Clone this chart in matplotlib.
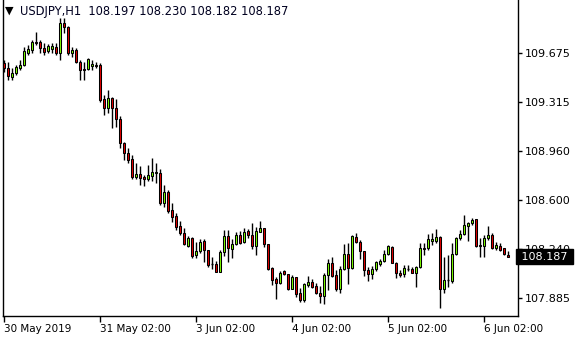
import matplotlib
matplotlib.use('Agg')
import matplotlib.pyplot as plt
from matplotlib.patches import Rectangle
from matplotlib.transforms import blended_transform_factory

# USDJPY H1 candles (oldest first)
opens = [109.602, 109.565, 109.499, 109.529, 109.565, 109.587, 109.675, 109.697, 109.755, 109.755,
         109.711, 109.689, 109.704, 109.719, 109.675, 109.894, 109.865, 109.675, 109.697, 109.609,
         109.558, 109.558, 109.580, 109.587, 109.587, 109.339, 109.273, 109.346, 109.273, 109.193,
         109.017, 108.944, 108.900, 108.769, 108.791, 108.769, 108.754, 108.776, 108.798, 108.798,
         108.579, 108.659, 108.528, 108.484, 108.411, 108.360, 108.265, 108.323, 108.199, 108.228,
         108.301, 108.236, 108.133, 108.133, 108.075, 108.221, 108.338, 108.243, 108.279, 108.345,
         108.294, 108.374, 108.345, 108.265, 108.367, 108.396, 108.279, 108.104, 108.024, 107.994,
         108.082, 108.060, 107.951, 108.038, 107.921, 107.870, 107.980, 108.002, 107.973, 107.921,
         107.899, 108.053, 108.141, 108.053, 107.951, 108.097, 108.206, 108.104, 108.331, 108.294,
         108.228, 108.089, 108.060, 108.097, 108.133, 108.155, 108.206, 108.257, 108.141, 108.068,
         108.060, 108.097, 108.097, 108.068, 108.111, 108.250, 108.250, 108.301, 108.301, 108.331,
         107.951, 108.016, 108.009, 108.206, 108.323, 108.352, 108.411, 108.433, 108.462, 108.272,
         108.265, 108.323, 108.345, 108.250, 108.265, 108.250, 108.197]
highs = [109.624, 109.609, 109.565, 109.587, 109.624, 109.719, 109.733, 109.770, 109.828, 109.770,
         109.748, 109.741, 109.748, 109.748, 109.931, 109.931, 109.872, 109.719, 109.711, 109.624,
         109.609, 109.638, 109.624, 109.609, 109.602, 109.368, 109.404, 109.353, 109.339, 109.215,
         109.025, 108.981, 108.930, 108.871, 108.849, 108.783, 108.857, 108.908, 108.871, 108.827,
         108.710, 108.674, 108.579, 108.506, 108.447, 108.396, 108.338, 108.331, 108.294, 108.316,
         108.316, 108.236, 108.184, 108.155, 108.236, 108.382, 108.382, 108.316, 108.367, 108.374,
         108.396, 108.389, 108.433, 108.404, 108.447, 108.396, 108.279, 108.111, 108.038, 108.082,
         108.089, 108.060, 108.053, 108.038, 107.958, 107.994, 108.046, 108.024, 107.994, 107.973,
         108.068, 108.170, 108.184, 108.089, 108.119, 108.279, 108.287, 108.345, 108.360, 108.309,
         108.228, 108.111, 108.119, 108.155, 108.170, 108.236, 108.272, 108.265, 108.148, 108.089,
         108.126, 108.126, 108.111, 108.119, 108.287, 108.287, 108.352, 108.360, 108.389, 108.338,
         108.184, 108.199, 108.287, 108.331, 108.382, 108.491, 108.440, 108.469, 108.462, 108.323,
         108.345, 108.411, 108.360, 108.294, 108.287, 108.250, 108.230]
lows = [109.536, 109.478, 109.478, 109.514, 109.551, 109.580, 109.660, 109.675, 109.733, 109.675,
        109.660, 109.675, 109.675, 109.660, 109.624, 109.821, 109.660, 109.646, 109.602, 109.478,
        109.478, 109.551, 109.551, 109.565, 109.317, 109.222, 109.236, 109.127, 109.134, 108.981,
        108.893, 108.871, 108.754, 108.754, 108.710, 108.703, 108.740, 108.740, 108.725, 108.564,
        108.550, 108.506, 108.440, 108.382, 108.345, 108.272, 108.257, 108.177, 108.177, 108.214,
        108.148, 108.111, 108.097, 108.075, 108.075, 108.192, 108.148, 108.177, 108.272, 108.279,
        108.287, 108.323, 108.243, 108.199, 108.367, 108.257, 108.089, 107.980, 107.878, 107.987,
        108.053, 107.943, 107.951, 107.892, 107.856, 107.856, 107.965, 107.958, 107.914, 107.848,
        107.841, 107.943, 108.038, 107.936, 107.921, 108.089, 107.987, 108.097, 108.287, 108.170,
        108.046, 108.009, 108.024, 108.082, 108.119, 108.148, 108.199, 108.141, 108.031, 108.038,
        108.038, 108.082, 108.068, 107.965, 108.104, 108.199, 108.236, 108.272, 108.287, 107.812,
        107.921, 107.965, 107.994, 108.199, 108.309, 108.345, 108.301, 108.418, 108.257, 108.184,
        108.184, 108.309, 108.243, 108.236, 108.228, 108.199, 108.182]
closes = [109.565, 109.507, 109.529, 109.572, 109.587, 109.689, 109.704, 109.755, 109.748, 109.711,
          109.682, 109.726, 109.726, 109.675, 109.894, 109.865, 109.675, 109.697, 109.609, 109.551,
          109.551, 109.631, 109.594, 109.583, 109.331, 109.273, 109.346, 109.273, 109.193, 109.017,
          108.944, 108.893, 108.769, 108.791, 108.762, 108.754, 108.783, 108.805, 108.802, 108.579,
          108.659, 108.520, 108.477, 108.404, 108.360, 108.279, 108.323, 108.192, 108.228, 108.294,
          108.236, 108.126, 108.130, 108.075, 108.221, 108.338, 108.250, 108.279, 108.345, 108.287,
          108.367, 108.345, 108.265, 108.374, 108.396, 108.279, 108.097, 108.016, 107.994, 108.068,
          108.060, 107.951, 108.038, 107.914, 107.870, 107.987, 108.002, 107.965, 107.921, 107.899,
          108.053, 108.141, 108.046, 107.951, 108.097, 108.206, 108.104, 108.338, 108.294, 108.228,
          108.089, 108.060, 108.097, 108.148, 108.155, 108.206, 108.265, 108.141, 108.068, 108.053,
          108.104, 108.093, 108.068, 108.111, 108.250, 108.246, 108.316, 108.316, 108.331, 107.951,
          108.016, 108.013, 108.206, 108.323, 108.352, 108.418, 108.433, 108.455, 108.265, 108.268,
          108.323, 108.345, 108.250, 108.272, 108.236, 108.206, 108.187]

x_tick_bars = [0, 24, 48, 72, 96, 120]
x_tick_labels = ['30 May 2019', '31 May 02:00', '3 Jun 02:00', '4 Jun 02:00', '5 Jun 02:00', '6 Jun 02:00']
y_ticks = [109.675, 109.315, 108.960, 108.600, 108.240, 107.885]
y_tick_labels = ['109.675', '109.315', '108.960', '108.600', '108.240', '107.885']
title = 'USDJPY,H1  108.197 108.230 108.182 108.187'

BULL = '#7CFC00'
BEAR = '#E00000'

fig = plt.figure(figsize=(5.8, 3.4), dpi=100)
ax = fig.add_axes([3 / 580, 24 / 340, 515 / 580, 316 / 340])

body_w = 0.55
for i, (o, h, l, c) in enumerate(zip(opens, highs, lows, closes)):
    ax.vlines(i, l, h, color='black', lw=1.0, zorder=2)
    if abs(c - o) < 0.004:
        ax.hlines(o, i - body_w / 2, i + body_w / 2, color='black', lw=1.0, zorder=3)
    else:
        col = BULL if c > o else BEAR
        ax.add_patch(Rectangle((i - body_w / 2, min(o, c)), body_w, abs(c - o),
                               facecolor=col, edgecolor='black', lw=0.75, zorder=3))

ax.set_xlim(-0.25, 128.5)
ax.set_ylim(107.753, 110.062)

ax.spines['top'].set_visible(False)
for s in ['left', 'right', 'bottom']:
    ax.spines[s].set_linewidth(1.0)

ax.set_xticks(x_tick_bars)
ax.set_xticklabels(x_tick_labels, ha='left', fontsize=7.5)
ax.tick_params(axis='x', direction='out', length=4, width=1, pad=2)

ax.yaxis.tick_right()
ax.set_yticks(y_ticks)
ax.set_yticklabels(y_tick_labels, fontsize=8)
ax.tick_params(axis='y', direction='out', length=3, width=1, pad=2)

# current price box on the price scale
trans = blended_transform_factory(ax.transAxes, ax.transData)
ax.text(1.0, closes[-1], ' ' + f'{closes[-1]:.3f}' + ' ', transform=trans, ha='left', va='center',
        fontsize=8, color='white', zorder=10, clip_on=False,
        bbox=dict(boxstyle='square,pad=0.2', facecolor='black', edgecolor='black'))

fig.text(5 / 580, 1 - 11 / 340, '\u25bc', fontsize=8, va='center', ha='left')
fig.text(20 / 580, 1 - 12 / 340, title, fontsize=8.3, va='center', ha='left', color='#000020')

fig.savefig('out.png', dpi=100)
